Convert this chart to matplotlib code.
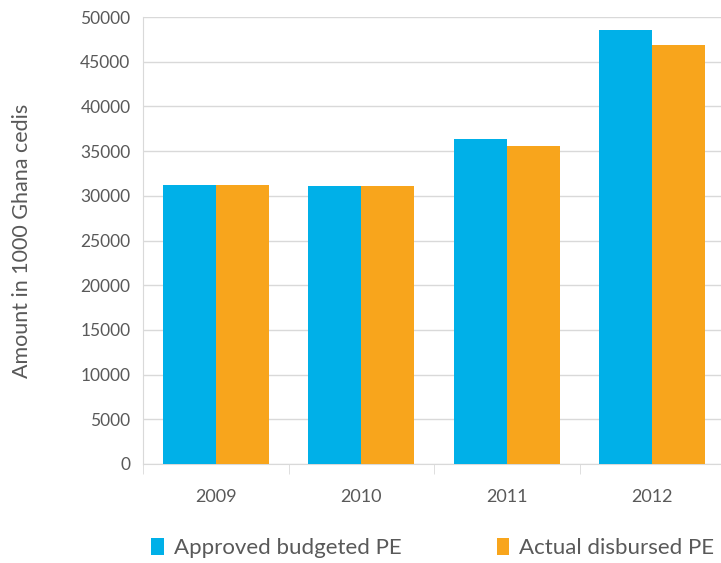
import matplotlib.pyplot as plt
import numpy as np

years = ['2009', '2010', '2011', '2012']
approved = [31240, 31100, 36400, 48600]
disbursed = [31240, 31100, 35560, 46880]

blue = '#00B0E8'
orange = '#F8A51C'
grey_txt = '#595959'

plt.rcParams['font.family'] = ['Lato', 'DejaVu Sans']

fig = plt.figure(figsize=(7.21, 5.63), dpi=100)
ax = fig.add_axes([143/721, 1 - 464/563, 582/721, 447/563])

x = np.arange(len(years))
w = 0.365
ax.bar(x - w/2, approved, w, color=blue, label='Approved budgeted PE', zorder=3)
ax.bar(x + w/2, disbursed, w, color=orange, label='Actual disbursed PE', zorder=3)

ax.set_xlim(-0.5, 3.5)
ax.set_ylim(0, 50000)
ax.set_yticks(np.arange(0, 50001, 5000))
ax.yaxis.grid(True, color='#d9d9d9', linewidth=1, zorder=0)
ax.tick_params(axis='y', length=0, pad=9, labelsize=12.5, labelcolor=grey_txt)

# category ticks sit between the groups, labels centred under them
ax.set_xticks(x)
ax.set_xticklabels(years)
ax.set_xticks(np.arange(-0.5, 3.6, 1), minor=True)
ax.tick_params(axis='x', which='major', length=0, pad=18, labelsize=13, labelcolor=grey_txt)
ax.tick_params(axis='x', which='minor', length=7, color='#d9d9d9')

for side in ['top', 'right']:
    ax.spines[side].set_visible(False)
ax.spines['left'].set_color('#d9d9d9')
ax.spines['bottom'].set_color('#d9d9d9')

ax.set_ylabel('Amount in 1000 Ghana cedis', fontsize=15.5, color=grey_txt)
ax.yaxis.set_label_coords(-0.19, 0.5)

fig.legend(loc='center', bbox_to_anchor=(0.6, 1 - 548/563), ncol=2, frameon=False,
           handlelength=0.55, handleheight=0.8, handletextpad=0.45, columnspacing=4.3,
           fontsize=16, labelcolor=grey_txt)

fig.savefig('out.png', dpi=100)
